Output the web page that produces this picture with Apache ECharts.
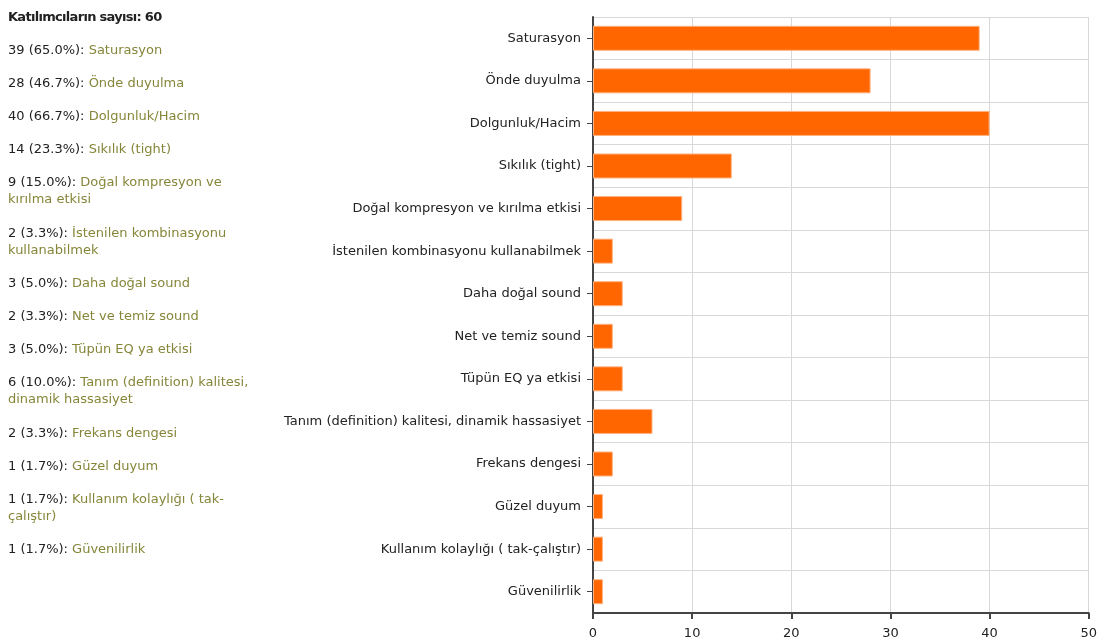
<!DOCTYPE html>
<html>
<head>
<meta charset="utf-8">
<script src="https://cdn.jsdelivr.net/npm/echarts@6/dist/echarts.min.js"></script>
<style>
  html, body { margin: 0; padding: 0; background: #fff; }
  #wrap { position: relative; width: 1100px; height: 643px; }
  #main { position: absolute; left: 0; top: 0; width: 1100px; height: 643px; }
  #side {
    position: absolute; left: 8px; top: 8px; width: 262px;
    font-family: "DejaVu Sans", sans-serif; font-size: 13px; line-height: 17px; color: #222;
  }
  #side .title { font-weight: bold; font-size: 13px; letter-spacing: -0.7px; margin-bottom: 16px; }
  #side .item { margin-bottom: 16px; }
  #side .item.wrap2 { margin-bottom: 16.5px; }
  #side .lbl { color: #86863a; }
</style>
</head>
<body>
<div id="wrap">
  <div id="main"></div>
  <div id="side"></div>
</div>
<script>
// katılımcı sayısı
const totalCount = 60;
const categories = [
  'Saturasyon',
  'Önde duyulma',
  'Dolgunluk/Hacim',
  'Sıkılık (tight)',
  'Doğal kompresyon ve kırılma etkisi',
  'İstenilen kombinasyonu kullanabilmek',
  'Daha doğal sound',
  'Net ve temiz sound',
  'Tüpün EQ ya etkisi',
  'Tanım (definition) kalitesi, dinamik hassasiyet',
  'Frekans dengesi',
  'Güzel duyum',
  'Kullanım kolaylığı ( tak-çalıştır)',
  'Güvenilirlik'
];
const counts = [39, 28, 40, 14, 9, 2, 3, 2, 3, 6, 2, 1, 1, 1];
const percents = ['65.0', '46.7', '66.7', '23.3', '15.0', '3.3', '5.0', '3.3', '5.0', '10.0', '3.3', '1.7', '1.7', '1.7'];
const xTicks = [0, 10, 20, 30, 40, 50];

// sol taraftaki liste
let html = '<div class="title">Katılımcıların sayısı: ' + totalCount + '</div>';
categories.forEach((c, i) => {
  html += '<div class="item">' + counts[i] + ' (' + percents[i] + '%): <span class="lbl">' + c + '</span></div>';
});
document.getElementById('side').innerHTML = html;
// iki satıra kayanlar biraz daha boşluk
document.querySelectorAll('#side .item').forEach(el => {
  if (el.offsetHeight > 20) el.classList.add('wrap2');
});

const chart = echarts.init(document.getElementById('main'));
chart.setOption({
  animation: false,
  textStyle: { fontFamily: '"DejaVu Sans", sans-serif' },
  grid: { left: 593, right: 10, top: 17, bottom: 30 },
  xAxis: {
    type: 'value',
    min: xTicks[0],
    max: xTicks[xTicks.length - 1],
    interval: 10,
    axisLine: { show: true, lineStyle: { color: '#444', width: 2 } },
    axisTick: { show: true, length: 6, lineStyle: { color: '#444', width: 2 } },
    axisLabel: { color: '#222', fontSize: 13, margin: 14 },
    splitLine: { show: true, lineStyle: { color: '#d8d8d8', width: 1 } }
  },
  yAxis: {
    type: 'category',
    inverse: true,
    data: categories,
    axisLine: { show: true, lineStyle: { color: '#444', width: 2 } },
    axisTick: { show: true, alignWithLabel: true, length: 6, lineStyle: { color: '#444' } },
    axisLabel: { color: '#222', fontSize: 13, margin: 12 },
    splitLine: { show: true, lineStyle: { color: '#d8d8d8', width: 1 } }
  },
  series: [{
    type: 'bar',
    data: counts,
    barWidth: 25,
    itemStyle: { color: '#ff6600', borderColor: '#ffb27f', borderWidth: 1 }
  }]
});
</script>
</body>
</html>
